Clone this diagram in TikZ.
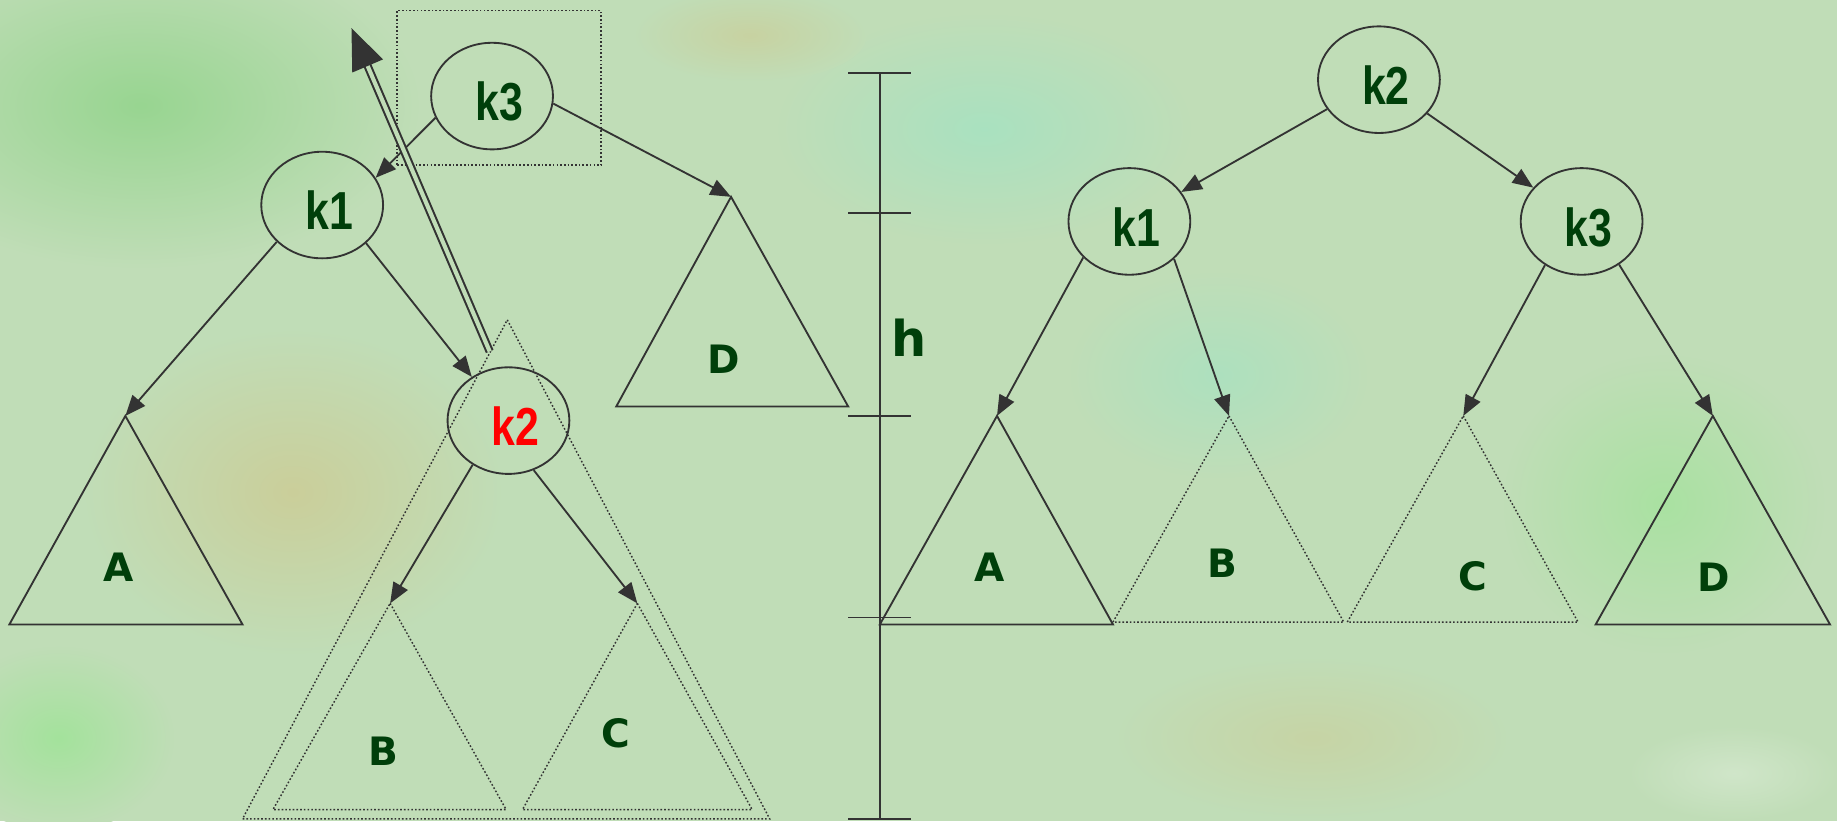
\documentclass[tikz,border=0pt]{standalone}
\usepackage{fontspec}
\usepackage{tikz}
\usetikzlibrary{arrows.meta,shapes.geometric}
\usepackage{xcolor}
\newfontfamily\keyfont[FakeStretch=0.8]{Liberation Sans}
\newfontfamily\treefont{DejaVu Sans}
\definecolor{LineGrey}{HTML}{333333}
\definecolor{KeyGreen}{HTML}{003F0A}
\definecolor{BgGreen}{HTML}{C0DDB7}

\begin{document}
\begin{tikzpicture}[x=0.02cm, y=-0.02cm,
				keynode/.style={draw=LineGrey, line width=0.9pt, ellipse,
					minimum width=2.08cm, minimum height=1.82cm, inner sep=0pt,
					text height=0.85cm, text depth=0pt, execute at begin node={\hspace*{0.24cm}},
					text=KeyGreen, font=\keyfont\bfseries\fontsize{26}{26}\selectfont},
				subtree/.style={draw=LineGrey, line width=0.9pt},
				ghost/.style={draw=LineGrey, line width=0.7pt, dash pattern=on 0.8pt off 1pt},
				treelabel/.style={text=KeyGreen, font=\treefont\bfseries\fontsize{19}{19}\selectfont},
				arrow/.style={-{Triangle[length=10pt, width=8pt]}, LineGrey, line width=0.9pt},
				lift/.style={-{Triangle[length=20pt, width=16pt]}, draw=LineGrey, line width=1pt,
					double=BgGreen, double distance=2pt}
				]
				\useasboundingbox (0,0) rectangle (1568,701);
				% background
				\begin{scope}
					\clip (0,0) rectangle (1568,701);
					\fill[BgGreen] (0,0) rectangle (1568,701);
					\shade[inner color=green!16!BgGreen!94!black, outer color=BgGreen] (120,90) ellipse [x radius=240, y radius=140];
					\shade[inner color=orange!16!BgGreen, outer color=BgGreen] (250,420) ellipse [x radius=180, y radius=140];
					\shade[inner color=cyan!12!BgGreen, outer color=BgGreen] (840,110) ellipse [x radius=180, y radius=100];
					\shade[inner color=orange!12!BgGreen, outer color=BgGreen] (640,30) ellipse [x radius=100, y radius=40];
					\shade[inner color=cyan!10!BgGreen, outer color=BgGreen] (1040,320) ellipse [x radius=130, y radius=90];
					\shade[inner color=orange!10!BgGreen, outer color=BgGreen] (1120,630) ellipse [x radius=170, y radius=70];
					\shade[inner color=green!12!BgGreen, outer color=BgGreen] (1420,430) ellipse [x radius=140, y radius=130];
					\shade[inner color=green!15!BgGreen, outer color=BgGreen] (50,630) ellipse [x radius=100, y radius=80];
					\shade[inner color=white!25!BgGreen, outer color=BgGreen] (1480,660) ellipse [x radius=90, y radius=40];
				\end{scope}

				% left: before rotation
				\node[ghost, minimum width=3.48cm, minimum height=2.64cm] (k3box) at (426,75) {};
				\node[keynode] (k3) at (420,82) {k3};
				\node[keynode] (k1) at (275,175) {k1};
				\node[keynode, text=red] (k2) at (434,359) {k2};

				\draw[subtree] (107,355) coordinate (Atop) -- (207,533) -- (8,533) -- cycle;
				\draw[subtree] (624,168) coordinate (Dtop) -- (724,347) -- (526,347) -- cycle;
				\draw[ghost] (433,273) coordinate (K2top) -- (657,699) -- (207,699) -- cycle;
				\draw[ghost] (333,515) coordinate (Btop) -- (432,691) -- (233,691) -- cycle;
				\draw[ghost] (544,515) coordinate (Ctop) -- (642,691) -- (446,691) -- cycle;
				\node[treelabel] (Alabel) at (101,484) {A};
				\node[treelabel] (Blabel) at (327,641) {B};
				\node[treelabel] (Clabel) at (526,626) {C};
				\node[treelabel] (Dlabel) at (618,307) {D};

				\draw[arrow] (k3.201) -- (k1.27);
				\draw[arrow] (k3.353) -- (Dtop);
				\draw[arrow] (k1.219) -- (Atop);
				\draw[arrow] (k1.319) -- (k2.130);
				\draw[arrow] (k2.231) -- (Btop);
				\draw[arrow] (k2.297) -- (Ctop);

				\coordinate (liftfoot) at (418,300);
				\coordinate (lifthead) at (300,24);
				\draw[lift] (liftfoot) -- (lifthead);

				% height scale
				\coordinate (hstart) at (751,62);
				\coordinate (hend) at (751,699);
				\draw[LineGrey, line width=0.9pt] (hstart) -- (hend);
				\foreach \y in {62,182,355,527,699}
					\draw[LineGrey, line width=0.9pt] (724,\y) -- (778,\y);
				\node[treelabel, font=\treefont\bfseries\fontsize{24}{24}\selectfont] (hlabel) at (776,288) {h};

				% right: after rotation
				\node[keynode] (rk2) at (1177,68) {k2};
				\node[keynode] (rk1) at (964,189) {k1};
				\node[keynode] (rk3) at (1350,189) {k3};

				\draw[subtree] (851,355) coordinate (rAtop) -- (950,533) -- (751,533) -- cycle;
				\draw[ghost] (1049,355) coordinate (rBtop) -- (1147,531) -- (950,531) -- cycle;
				\draw[ghost] (1249,355) coordinate (rCtop) -- (1347,531) -- (1150,531) -- cycle;
				\draw[subtree] (1462,355) coordinate (rDtop) -- (1562,533) -- (1362,533) -- cycle;
				\node[treelabel] (rAlabel) at (845,484) {A};
				\node[treelabel] (rBlabel) at (1043,481) {B};
				\node[treelabel] (rClabel) at (1257,492) {C};
				\node[treelabel] (rDlabel) at (1463,493) {D};

				\draw[arrow] (rk2) -- (rk1);
				\draw[arrow] (rk2) -- (rk3);
				\draw[arrow] (rk1.218) -- (rAtop);
				\draw[arrow] (rk1.320) -- (rBtop);
				\draw[arrow] (rk3.230) -- (rCtop);
				\draw[arrow] (rk3.311) -- (rDtop);
			\end{tikzpicture}
\end{document}
